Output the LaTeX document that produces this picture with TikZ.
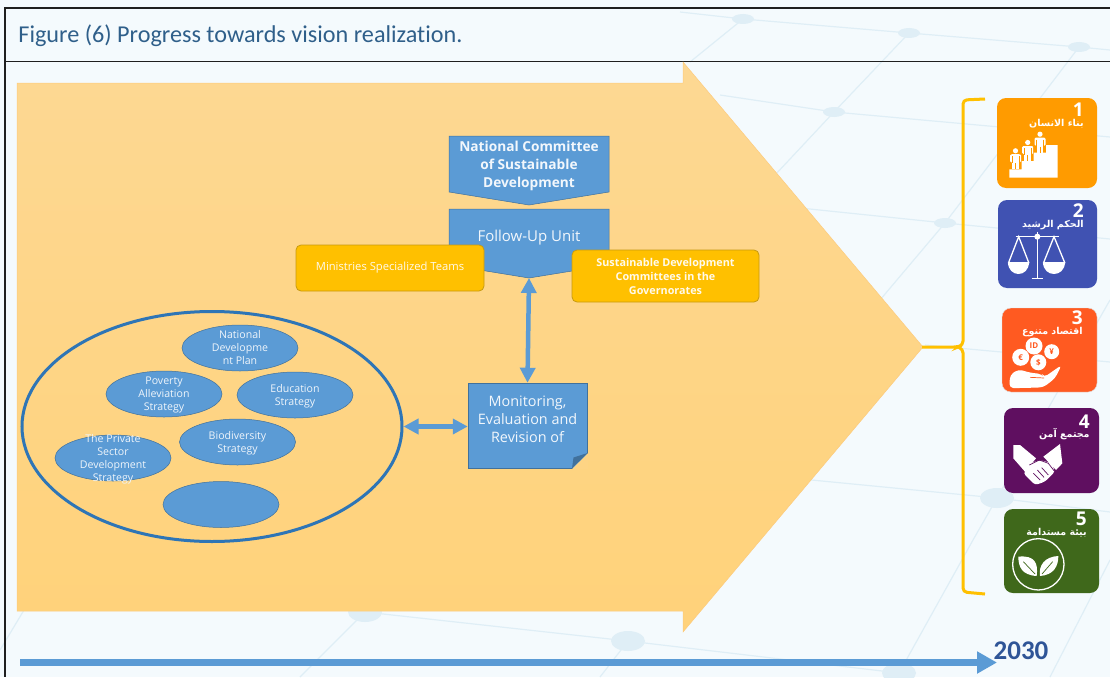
\documentclass[tikz,border=0pt]{standalone}
\usepackage{fontspec}
\setmainfont{Open Sans}
\newfontfamily\titlefont[Ligatures=NoCommon]{Carlito}
\newfontfamily\arabicfont[Script=Arabic]{DejaVu Sans}
\TeXXeTstate=1
\usetikzlibrary{shapes.geometric,arrows.meta}
\definecolor{paper}{HTML}{F4FAFD}
\definecolor{web}{HTML}{DFEEF6}
\definecolor{sand}{HTML}{FDD893}
\definecolor{sandlow}{HTML}{FFD27A}
\definecolor{steel}{HTML}{5B9BD5}
\definecolor{steelline}{HTML}{41719C}
\definecolor{ringblue}{HTML}{2E75B6}
\definecolor{titleblue}{HTML}{2F5F8A}
\definecolor{yearblue}{HTML}{2F5597}
\definecolor{gold}{HTML}{FFC000}
\definecolor{goldline}{HTML}{C79A10}
\definecolor{tileorange}{HTML}{FF9B00}
\definecolor{tileblue}{HTML}{4052B2}
\definecolor{tilered}{HTML}{FF5A21}
\definecolor{tilepurple}{HTML}{5F0F60}
\definecolor{tilegreen}{HTML}{3F681B}
\tikzset{
  person/.pic={
    \fill[white] (0,-18.5) circle (2.6);
    \fill[white,rounded corners=1.2] (-5.5,-15) rectangle (5.5,-7);
    \fill[white] (-3.4,-15) rectangle (3.4,0);
    \draw[tileorange,line width=.6] (-3.6,-13) -- (-3.6,-6.5) (3.6,-13) -- (3.6,-6.5) (0,-6) -- (0,0);
  }
}
\begin{document}
\begin{tikzpicture}[x=1pt,y=-1pt,>=stealth,thick,
    pentabox/.style={fill=steel,draw=steelline,line width=.5},
    blocktext/.style={font=\fontsize{14.4}{17.8}\selectfont,text=white!92!steel,align=center,inner sep=0},
    goldbox/.style={rectangle,rounded corners=5,fill=gold,draw=goldline,line width=.8,text=white!92!gold,align=center,inner sep=0,font=\fontsize{11.2}{14}\selectfont},
    strategy/.style={ellipse,fill=steel,draw=steelline,line width=.5,minimum width=116,minimum height=46,inner sep=0},
    stratext/.style={font=\fontsize{10.6}{13}\selectfont,text=white!90!steel,align=center,inner sep=0},
    link/.style={<->,color=steel,line width=4.5,>={Triangle[width=15,length=15]},shorten <=0,shorten >=0},
    tile/.style={rectangle,rounded corners=9,minimum width=#1,inner sep=0},
    tiletext/.style={font=\arabicfont\bfseries\fontsize{9.5}{11}\selectfont,text=white,inner sep=0,anchor=east},
    tilenum/.style={font=\bfseries\fontsize{19}{19}\selectfont,text=white,inner sep=0,anchor=east},
    webdot/.style={ellipse,fill=web,minimum width=22,minimum height=10,inner sep=0}]
\useasboundingbox (0,0) rectangle (1110,677);
\fill[paper] (0,0) rectangle (1110,677);

% background web
\draw[web,line width=1.2]
  (680,12) -- (743,19) -- (909,33) -- (1079,47) -- (1110,50)
  (720,95) -- (834,112) -- (1110,137)
  (800,208) -- (945,223) -- (1110,239)
  (743,19) -- (690,62)
  (909,33) -- (834,112) -- (775,175)
  (1079,47) -- (945,223) -- (880,300)
  (1110,300) -- (997,498) -- (973,540) -- (899,673)
  (760,475) -- (997,498) -- (1110,512)
  (925,345) -- (1110,362)
  (1110,560) -- (1050,677)
  (365,612) -- (628,641) -- (899,673)
  (365,612) -- (300,677)
  (628,641) -- (600,677)
  (30,600) -- (0,650);
\foreach \webx/\weby in {743/19,909/33,1079/47,834/112,945/223}
  \node[webdot] at (\webx,\weby) {};
\foreach \webx/\weby in {997/498,628/641,365/612,899/673}
  \node[webdot,minimum width=34,minimum height=20] at (\webx,\weby) {};

% frame and title
\draw[black!88,line width=1.5] (1110,8) -- (5,8) -- (5,677) (5,61.5) -- (1110,61.5);
\node[font=\titlefont\fontsize{24.2}{24}\selectfont,text=titleblue,anchor=west,inner sep=0] (title) at (18,36) {Figure (6) Progress towards vision realization.};

% big arrow
\path[top color=sand,bottom color=sandlow,draw=sand!85!orange,line width=.5]
  (17,83) -- (683,83) -- (683,62) -- (923,347) -- (683,632) -- (683,611) -- (17,611) -- cycle;
\coordinate (tip) at (922,347);

% committees
\draw[pentabox] (449,136) -- (609,136) -- (609,192) -- (529,205) -- (449,192) -- cycle;
\node[blocktext,font=\bfseries\fontsize{13.7}{18}\selectfont] (natcom) at (529,165.5) {National Committee\\of Sustainable\\Development};
\draw[pentabox] (449,209) -- (609,209) -- (609,265) -- (529,278) -- (449,265) -- cycle;
\coordinate (followtip) at (529,278);
\node[blocktext,font=\fontsize{15}{18}\selectfont] (follow) at (529,238) {Follow-Up Unit};
\node[goldbox,minimum width=188,minimum height=46] (ministries) at (390,268) {Ministries Specialized Teams};
\node[goldbox,minimum width=187,minimum height=52,font=\bfseries\fontsize{10.8}{14}\selectfont] (governorates) at (665.5,276) {Sustainable Development\\Committees in the\\Governorates};

% monitoring box
\node[rectangle,fill=steel,draw=steelline,line width=.5,minimum width=119,minimum height=85,inner sep=0] (monitor) at (527.5,425.5) {};
\fill[sandlow!60!sand] (588,453) -- (588,469) -- (572,469) -- cycle;
\fill[steelline] (587.6,453) -- (572,468.4) -- (573.5,457.5) -- cycle;
\node[blocktext] (monitortext) at (527.5,419.5) {Monitoring,\\Evaluation and\\Revision of};

% strategies
\node[ellipse,draw=ringblue,line width=3,minimum width=380,minimum height=230,inner sep=0] (plans) at (212,426.5) {};
\node[strategy,label={[stratext]center:{National\\Developme\\nt Plan}}] (natplan) at (240,348) {};
\node[strategy,label={[stratext,yshift=-1]center:{Poverty\\Alleviation\\Strategy}}] (poverty) at (164,394) {};
\node[strategy,label={[stratext,yshift=-1]center:{Education\\Strategy}}] (education) at (295,395) {};
\node[strategy,label={[stratext,yshift=-1]center:{Biodiversity\\Strategy}}] (biodiversity) at (237.5,442) {};
\node[strategy,label={[stratext,yshift=-1]center:{The Private\\Sector\\Development\\Strategy}}] (private) at (113,458) {};
\node[strategy] (blank) at (221,504.5) {};

\draw[link] (followtip) -- (monitor.north);
\draw[link] (plans.east) -- (monitor.west |- plans.east);

% bracket
\coordinate (bracetop) at (985,99);
\coordinate (bracelow) at (985,594);
\draw[gold,line width=3,rounded corners=4] (bracetop) -- (963,100) -- (963,345) -- (958,347) -- (tip);
\draw[gold,line width=3,rounded corners=4] (958,347) -- (963,349) -- (963,592) -- (bracelow);

% tile 1
\node[tile=100,fill=tileorange,minimum height=90] (tile1) at (1047,143) {};
\node[tilenum] (num1) at (1084,110) {1};
\node[tiletext] (text1) at (1084,124) {\beginR بناء الانسان\endR};
\fill[white] (1009.3,177.7) -- (1009.3,169.3) -- (1021.7,169.3) -- (1021.7,161) -- (1033.7,161) -- (1033.7,152.7) -- (1046,152.7) -- (1046,145) -- (1057.7,145) -- (1057.7,177.7) -- cycle;
\pic at (1015.5,169.3) {person};
\pic at (1027.7,161) {person};
\pic at (1040,152.7) {person};

% tile 2
\node[tile=99,fill=tileblue,minimum height=88] (tile2) at (1047.5,244) {};
\node[tilenum] (num2) at (1084,210.5) {2};
\node[tiletext] (text2) at (1084,225) {\beginR الحكم الرشيد\endR};
\begin{scope}[shift={(980,90)},scale=1/3]
  \draw[white,line width=1.2] (107,440) -- (237,440);
  \draw[white,line width=1.6] (172,425) -- (172,563) (155,565) -- (190,565);
  \fill[white] (172,440) circle (9);
  \draw[white,line width=1.3] (85,520) -- (116,440) -- (147,520) (190,520) -- (222,440) -- (255,520);
  \fill[white] (85,515) .. controls (85,563) and (147,563) .. (147,515) -- cycle;
  \fill[white] (190,515) .. controls (190,563) and (255,563) .. (255,515) -- cycle;
\end{scope}

% tile 3
\node[tile=95,fill=tilered,draw=white!75!gray,line width=.4,minimum height=84] (tile3) at (1049.5,350) {};
\node[tilenum] (num3) at (1083,318) {3};
\node[tiletext] (text3) at (1083,332) {\beginR اقتصاد متنوع\endR};
\foreach \coinx/\coiny/\coinr/\coin in {1034/346/8.5/ID,1051.7/351.7/7.5/\char"00A5,1020.7/357.3/8.5/\char"20AC,1038.3/362.3/8/\$}
  \node[circle,fill=white,minimum size=2*\coinr,inner sep=0,text=tilered,font=\bfseries\fontsize{8}{8}\selectfont] at (\coinx,\coiny) {\coin};
\begin{scope}[shift={(980,300)},scale=1/3]
  \fill[white,rounded corners=4] (88,264) -- (90,225) -- (115,208) -- (150,218) -- (185,222) -- (192,232) -- (245,195) -- (225,235) -- (190,262) -- (130,264) -- cycle;
  \draw[tilered,line width=.7] (150,232) -- (192,234);
\end{scope}

% tile 4
\node[tile=95,fill=tilepurple,minimum height=85] (tile4) at (1051.5,450.5) {};
\node[tilenum] (num4) at (1090,421.5) {4};
\node[tiletext] (text4) at (1090,434.5) {\beginR مجتمع آمن\endR};
\begin{scope}[shift={(980,300)},scale=1/3]
  \fill[white] (100,435) -- (120,435) -- (168,475) -- (135,515) -- (100,475) -- cycle;
  \fill[white] (240,432) -- (247,490) -- (228,510) -- (190,470) -- cycle;
  \fill[white,rounded corners=3] (150,490) -- (180,480) -- (215,490) -- (225,515) -- (195,545) -- (165,555) -- (130,520) -- cycle;
  \draw[tilepurple,line width=.7] (148,495) -- (178,480) -- (205,490) -- (222,512)
    (160,520) -- (180,540) (172,510) -- (192,532) (185,503) -- (205,525);
\end{scope}

% tile 5
\node[tile=95,fill=tilegreen,minimum height=84] (tile5) at (1051.5,551) {};
\node[tilenum] (num5) at (1087,519) {5};
\node[tiletext] (text5) at (1087,533) {\beginR بيئة مستدامة\endR};
\begin{scope}[shift={(980,300)},scale=1/3]
  \draw[white,line width=1.3] (175,793) circle (77);
  \fill[white] (115,770) .. controls (165,765) and (175,790) .. (170,828) .. controls (125,825) and (115,800) .. cycle;
  \fill[white] (235,768) .. controls (195,770) and (175,795) .. (180,828) .. controls (220,825) and (235,800) .. cycle;
  \draw[tilegreen,line width=.7] (130,785) -- (165,822) (218,785) -- (186,822);
\end{scope}

% time line
\coordinate (start) at (20,662.5);
\coordinate (end) at (997,662.5);
\draw[-{Triangle[width=21,length=20]},color=steel,line width=6.5] (start) -- (end);
\node[font=\titlefont\bfseries\fontsize{27}{27}\selectfont,text=yearblue,inner sep=0] (year) at (1021,651) {2030};
\end{tikzpicture}
\end{document}
